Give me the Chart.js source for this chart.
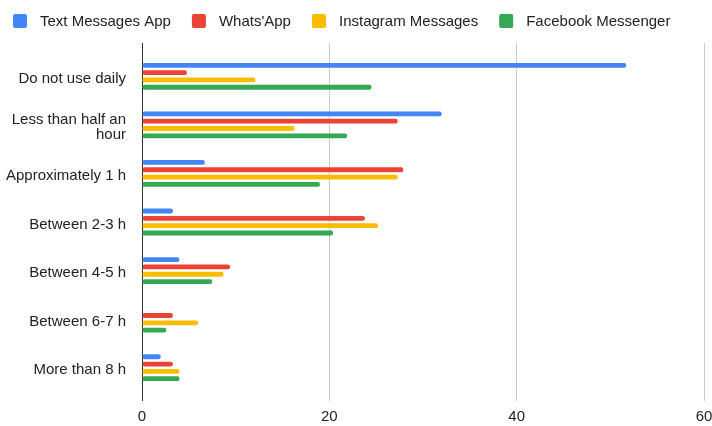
<!DOCTYPE html>
<html>
<head>
<meta charset="utf-8">
<script src="https://cdn.jsdelivr.net/npm/chart.js@4"></script>
<style>
html,body{margin:0;padding:0;background:#fff;}
#wrap{width:712px;height:426px;position:relative;}
</style>
</head>
<body>
<div id="wrap"><canvas id="c" width="712" height="426"></canvas></div>
<script>
const categories = ['Do not use daily', ['Less than half an', 'hour'], 'Approximately 1 h', 'Between 2-3 h', 'Between 4-5 h', 'Between 6-7 h', 'More than 8 h'];
const seriesNames = ["Text Messages App", "Whats'App", "Instagram Messages", "Facebook Messenger"];
const textMessages = [51.7, 32.0, 6.7, 3.3, 4.0, 0, 2.0];
const whatsApp = [4.8, 27.3, 27.9, 23.8, 9.4, 3.3, 3.3];
const instagram = [12.1, 16.3, 27.3, 25.2, 8.7, 6.0, 4.0];
const facebook = [24.5, 21.9, 19.0, 20.4, 7.5, 2.6, 4.0];
const xTicks = [0, 20, 40, 60];
const colors = ['#4285F4', '#EA4335', '#FBBC04', '#34A853'];

const FONT = '"Liberation Sans", Arial, sans-serif';
const TEXT = '#222';
const seriesData = [textMessages, whatsApp, instagram, facebook];

// legend drawn on canvas from dataset labels/colours
const topLegend = {
  id: 'topLegend',
  afterDraw(chart) {
    const ctx = chart.ctx;
    ctx.save();
    ctx.font = '15px ' + FONT;
    ctx.textBaseline = 'middle';
    ctx.textAlign = 'left';
    let x = 13;
    const cy = 21;
    chart.data.datasets.forEach(ds => {
      ctx.fillStyle = ds.backgroundColor;
      ctx.beginPath();
      ctx.roundRect(x, cy - 7, 14, 14, 2);
      ctx.fill();
      x += 14 + 13;
      ctx.fillStyle = TEXT;
      ctx.fillText(ds.label, x, cy + 1);
      x += ctx.measureText(ds.label).width + 21;
    });
    ctx.restore();
  }
};

// extend vertical grid lines slightly above the plot area, as in the reference
const gridExtend = {
  id: 'gridExtend',
  beforeDatasetsDraw(chart) {
    const ctx = chart.ctx;
    const xs = chart.scales.x;
    const top = chart.chartArea.top;
    ctx.save();
    ctx.lineWidth = 1;
    xTicks.forEach(v => {
      const p = xs.getPixelForValue(v);
      const px = Math.round(p - 0.5) + 0.5;
      ctx.strokeStyle = v === 0 ? '#333' : '#ccc';
      ctx.beginPath();
      ctx.moveTo(px, top - 9);
      ctx.lineTo(px, top);
      ctx.stroke();
    });
    ctx.restore();
  }
};

new Chart(document.getElementById('c'), {
  type: 'bar',
  data: {
    labels: categories,
    datasets: seriesData.map((d, i) => ({
      label: seriesNames[i],
      data: d,
      backgroundColor: colors[i],
      borderRadius: 2.2,
      borderSkipped: false,
      categoryPercentage: 0.603,
      barPercentage: 0.66
    }))
  },
  plugins: [topLegend, gridExtend],
  options: {
    indexAxis: 'y',
    responsive: false,
    animation: false,
    layout: { padding: { left: 0, right: 8, top: 52, bottom: 0 } },
    plugins: {
      legend: { display: false },
      tooltip: { enabled: false }
    },
    scales: {
      x: {
        min: 0,
        max: 60,
        afterBuildTicks: (s) => { s.ticks = xTicks.map(v => ({ value: v })); },
        afterFit: (s) => { s.height = 34; s.paddingRight = 0; s.paddingLeft = 0; },
        ticks: { font: { family: FONT, size: 15 }, color: TEXT, padding: 7 },
        grid: {
          color: (c) => (c.tick && c.tick.value === 0) ? '#333' : '#ccc',
          tickLength: 9,
          drawTicks: true
        },
        border: { display: false }
      },
      y: {
        afterFit: (s) => { s.width = 142; },
        ticks: { font: { family: FONT, size: 15, lineHeight: 1.0 }, color: TEXT, padding: 8, labelOffset: 2.5 },
        grid: { display: false },
        border: { display: true, color: '#333', width: 1 }
      }
    }
  }
});
</script>
</body>
</html>
